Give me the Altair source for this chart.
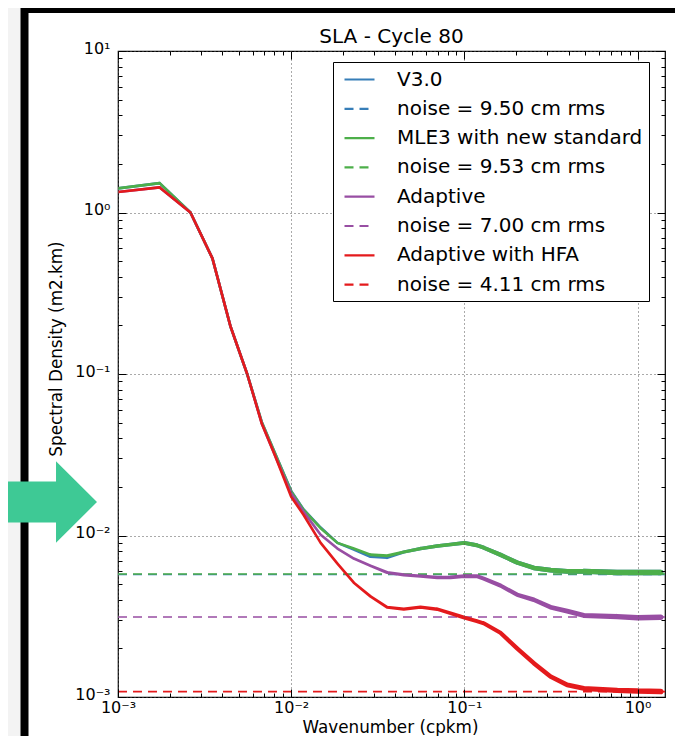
import altair as alt
import pandas as pd

FONT = "DejaVu Sans"
TITLE = "SLA - Cycle 80"
X_TITLE = "Wavenumber (cpkm)"
Y_TITLE = "Spectral Density (m2.km)"

SERIES = ["V3.0", "noise = 9.50 cm rms", "MLE3 with new standard", "noise = 9.53 cm rms",
          "Adaptive", "noise = 7.00 cm rms", "Adaptive with HFA", "noise = 4.11 cm rms"]
COLORS = ["#377eb8", "#377eb8", "#4daf4a", "#4daf4a",
          "#984ea3", "#984ea3", "#e41a1c", "#e41a1c"]
DASHES = [[1, 0], [9, 6], [1, 0], [9, 6], [1, 0], [9, 6], [1, 0], [9, 6]]

X_DOMAIN = [0.001, 1.441]
Y_DOMAIN = [0.001, 10.0]
X_MAJOR = [0.001, 0.01, 0.1, 1.0]
Y_MAJOR = [0.001, 0.01, 0.1, 1.0, 10.0]
MAJOR_TEXT = ["10⁻³", "10⁻²", "10⁻¹", "10⁰", "10¹"]
X_MINOR = [k * m for m in (0.001, 0.01, 0.1) for k in range(2, 10)]
Y_MINOR = [k * m for m in (0.001, 0.01, 0.1, 1.0) for k in range(2, 10)]

# wavenumber (cpkm)
FREQ = [0.001, 0.00174, 0.00262, 0.00351, 0.00447, 0.00557, 0.00678, 0.0080, 0.0100,
        0.0118, 0.0148, 0.0185, 0.0230, 0.0287, 0.0358, 0.0447, 0.0558, 0.0697, 0.0832, 0.100,
        0.118, 0.1294, 0.1615, 0.2016, 0.2518, 0.3144, 0.3924, 0.489, 0.762, 1.0, 1.36]

# spectral density (m2.km)
V30 = [1.41, 1.52, 1.0, 0.52, 0.196, 0.10, 0.050, 0.033, 0.0189,
       0.0145, 0.0112, 0.0090, 0.0082, 0.0074, 0.0073, 0.0079, 0.0083, 0.0086, 0.0088, 0.0090,
       0.0087, 0.0084, 0.0076, 0.0068, 0.0063, 0.0061, 0.0060, 0.0060, 0.0059, 0.0059, 0.0059]
MLE3 = [1.41, 1.52, 1.0, 0.52, 0.196, 0.10, 0.050, 0.033, 0.0187,
        0.0144, 0.0111, 0.0090, 0.0083, 0.0076, 0.0075, 0.0079, 0.0083, 0.0086, 0.0088, 0.0090,
        0.0087, 0.0084, 0.0076, 0.0068, 0.0063, 0.0061, 0.0060, 0.0060, 0.0059, 0.0059, 0.0059]
ADAPTIVE = [1.34, 1.43, 1.0, 0.52, 0.196, 0.10, 0.049, 0.032, 0.0182,
            0.0140, 0.0101, 0.0083, 0.0072, 0.0065, 0.0059, 0.0057, 0.0056, 0.0055, 0.0055, 0.0056,
            0.0056, 0.0054, 0.0049, 0.0043, 0.0040, 0.0036, 0.0034, 0.0032, 0.00315, 0.0031, 0.00312]
HFA = [1.34, 1.43, 1.0, 0.52, 0.196, 0.10, 0.049, 0.032, 0.0174,
       0.0134, 0.0090, 0.0067, 0.0051, 0.0042, 0.0036, 0.0035, 0.0036, 0.0035, 0.0033, 0.0031,
       0.00295, 0.00286, 0.0025, 0.0020, 0.00162, 0.00134, 0.00119, 0.00113, 0.0011, 0.00109, 0.00108]

CURVE_NAMES = [SERIES[0], SERIES[2], SERIES[4], SERIES[6]]
CURVE_VALUES = [V30, MLE3, ADAPTIVE, HFA]
NOISE_NAMES = [SERIES[1], SERIES[3], SERIES[5], SERIES[7]]
NOISE_LEVELS = [0.00574, 0.00578, 0.00313, 0.00108]

curve_rows = []
for name, vals in zip(CURVE_NAMES, CURVE_VALUES):
    for f, v in zip(FREQ, vals):
        curve_rows.append({"series": name, "f": f, "psd": v})
curves_df = pd.DataFrame(curve_rows)

noise_rows = []
for name, lvl in zip(NOISE_NAMES, NOISE_LEVELS):
    for f in X_DOMAIN:
        noise_rows.append({"series": name, "f": f, "psd": lvl})
noise_df = pd.DataFrame(noise_rows)


def label_expr(vals, texts):
    e = "''"
    for v, t in reversed(list(zip(vals, texts))):
        e = f"(abs(datum.value - {v}) < {v * 0.01}) ? '{t}' : ({e})"
    return e


xs = alt.Scale(type="log", domain=X_DOMAIN, nice=False)
ys = alt.Scale(type="log", domain=Y_DOMAIN, nice=False)
color_scale = alt.Scale(domain=SERIES, range=COLORS)

legend = alt.Legend(
    title=None, orient="none", legendX=215, legendY=11, direction="vertical",
    symbolType="M-1.5,0L1.5,0", symbolSize=400, symbolStrokeWidth=2.2, symbolOffset=9,
    labelFont=FONT, labelFontSize=20, labelColor="black", labelOffset=26, labelLimit=500,
    rowPadding=7.3, padding=6, fillColor="white", strokeColor="black", cornerRadius=0,
    zindex=2,
)

main_x_axis = alt.Axis(
    orient="bottom", values=X_MAJOR, labelExpr=label_expr(X_MAJOR, MAJOR_TEXT[:4]),
    labelFlush=False, labelOverlap=False, labelFont=FONT, labelFontSize=16, labelColor="black",
    labelPadding=2, ticks=False, tickSize=0, domain=False,
    grid=True, gridColor="#555555", gridDash=[1, 3], gridWidth=1,
    title=X_TITLE, titleFont=FONT, titleFontSize=16.8, titleFontWeight="normal", titleColor="black",
    titleX=272, titleY=35, titleBaseline="alphabetic", titleAlign="center", zindex=1,
)
main_y_axis = alt.Axis(
    orient="left", values=Y_MAJOR, labelExpr=label_expr(Y_MAJOR, MAJOR_TEXT),
    labelFlush=False, labelOverlap=False, labelFont=FONT, labelFontSize=16, labelColor="black",
    labelPadding=8, labelBaseline="middle", labelOffset=-3, ticks=False, tickSize=0, domain=False,
    grid=True, gridColor="#555555", gridDash=[1, 3], gridWidth=1,
    title=Y_TITLE, titleFont=FONT, titleFontSize=16.8, titleFontWeight="normal", titleColor="black",
    titleAngle=270, titleX=-57, titleY=297.5, titleBaseline="alphabetic", titleAlign="center", zindex=1,
)


def tick_axis(orient, values, size):
    return alt.Axis(orient=orient, values=values, offset=-size, tickSize=size, ticks=True,
                    tickColor="black", tickWidth=1, labels=False, domain=False, grid=False,
                    title=None, zindex=1)


one_row = alt.Data(values=[{"f": 0.01, "psd": 0.01}])

grey_strip = alt.Chart(alt.Data(values=[{}])).mark_rect(fill="#f3f3f3").encode(
    x=alt.value(-120), x2=alt.value(-97.5), y=alt.value(-60), y2=alt.value(700))
frame = alt.Chart(alt.Data(values=[{}])).mark_rect(
    fillOpacity=0, stroke="black", strokeWidth=8).encode(
    x=alt.value(-93.5), x2=alt.value(600), y=alt.value(-42), y2=alt.value(700))
arrow = alt.Chart(alt.Data(values=[{}])).mark_point(
    shape="M-1,-0.34 L0.317,-0.34 L0.317,-0.68 L1,0 L0.317,0.68 L0.317,0.34 L-1,0.34 Z",
    filled=True, color="#3ec995", opacity=1, size=14400, strokeWidth=0).encode(
    x=alt.value(-81), y=alt.value(451))
title_text = alt.Chart(alt.Data(values=[{"t": TITLE}])).mark_text(
    font=FONT, fontSize=20, color="black", align="center", baseline="alphabetic").encode(
    text="t:N", x=alt.value(273.5), y=alt.value(-7.7))

noise_layer = alt.Chart(noise_df).mark_line(strokeWidth=1.6, clip=True).encode(
    x=alt.X("f:Q", scale=xs, axis=None),
    y=alt.Y("psd:Q", scale=ys, axis=None),
    color=alt.Color("series:N", scale=color_scale, legend=legend),
    strokeDash=alt.StrokeDash("series:N", scale=alt.Scale(domain=SERIES, range=DASHES), legend=legend),
)
curves_layer = alt.Chart(curves_df).mark_trail(clip=True).encode(
    x=alt.X("f:Q", scale=xs, axis=main_x_axis),
    y=alt.Y("psd:Q", scale=ys, axis=main_y_axis),
    color=alt.Color("series:N", scale=color_scale, legend=None),
    size=alt.Size("f:Q", scale=alt.Scale(type="log", domain=[0.02, 1.0], range=[2.6, 5.5], clamp=True),
                  legend=None),
    detail="series:N",
)


def ticks_layer(xo, yo, xv, yv, size):
    return alt.Chart(one_row).mark_point(opacity=0).encode(
        x=alt.X("f:Q", axis=tick_axis(xo, xv, size)),
        y=alt.Y("psd:Q", axis=tick_axis(yo, yv, size)),
    )


layers = [
    grey_strip, frame, arrow, title_text, noise_layer, curves_layer,
    ticks_layer("bottom", "left", X_MAJOR, Y_MAJOR, 8),
    ticks_layer("bottom", "left", X_MINOR, Y_MINOR, 4),
    ticks_layer("top", "right", X_MAJOR, Y_MAJOR, 8),
    ticks_layer("top", "right", X_MINOR, Y_MINOR, 4),
]

chart = alt.layer(*layers).resolve_scale(x="shared", y="shared").resolve_axis(
    x="independent", y="independent"
).properties(
    width=547, height=646,
    padding={"left": 110, "top": 43, "right": 10, "bottom": 39},
    autosize=alt.AutoSizeParams(type="none"),
    background="white",
).configure_view(stroke="black", strokeWidth=1.2, fill="white")

chart.save("out.html", embed_options={"renderer": "svg", "actions": False})
